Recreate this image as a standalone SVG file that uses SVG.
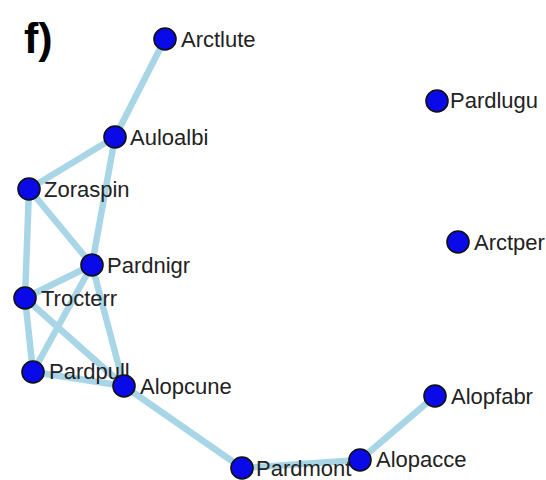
<svg xmlns="http://www.w3.org/2000/svg" width="546" height="480" viewBox="0 0 546 480">
  <style>
    .edge { stroke: #a8d6e6; stroke-width: 6.5; stroke-linecap: round; fill: none; }
    .node circle { fill: #0a0ae8; stroke: #111; stroke-width: 1.6; }
    .node text { font-family: "Liberation Sans", Arial, sans-serif; font-size: 22px; fill: #222; }
    .panel { font-family: "Liberation Sans", Arial, sans-serif; font-size: 43px; font-weight: bold; fill: #000; }
  </style>
  <rect width="546" height="480" fill="#fff"/>
  <text class="panel" x="24" y="53">f)</text>

  <!-- connectors -->
  <g id="edges">
    <line class="edge" x1="165" y1="39" x2="115" y2="137"/>
    <line class="edge" x1="115" y1="137" x2="29" y2="189"/>
    <line class="edge" x1="115" y1="137" x2="92" y2="265"/>
    <line class="edge" x1="29" y1="189" x2="25" y2="298"/>
    <line class="edge" x1="29" y1="189" x2="92" y2="265"/>
    <line class="edge" x1="92" y1="265" x2="25" y2="298"/>
    <line class="edge" x1="92" y1="265" x2="33" y2="372"/>
    <line class="edge" x1="92" y1="265" x2="124" y2="386"/>
    <line class="edge" x1="25" y1="298" x2="33" y2="372"/>
    <line class="edge" x1="25" y1="298" x2="124" y2="386"/>
    <line class="edge" x1="33" y1="372" x2="124" y2="386"/>
    <line class="edge" x1="124" y1="386" x2="242" y2="468"/>
    <line class="edge" x1="242" y1="468" x2="360" y2="460"/>
    <line class="edge" x1="360" y1="460" x2="435" y2="396"/>
  </g>

  <!-- nodes -->
  <g id="Arctlute" class="node"><circle cx="165" cy="39" r="11"/><text x="181" y="47">Arctlute</text></g>
  <g id="Auloalbi" class="node"><circle cx="115" cy="137" r="11"/><text x="130" y="145">Auloalbi</text></g>
  <g id="Zoraspin" class="node"><circle cx="29" cy="189" r="11"/><text x="44" y="197">Zoraspin</text></g>
  <g id="Pardnigr" class="node"><circle cx="92" cy="265" r="11"/><text x="107" y="273">Pardnigr</text></g>
  <g id="Trocterr" class="node"><circle cx="25" cy="298" r="11"/><text x="41" y="306">Trocterr</text></g>
  <g id="Pardpull" class="node"><circle cx="33" cy="372" r="11"/><text x="49" y="379">Pardpull</text></g>
  <g id="Alopcune" class="node"><circle cx="124" cy="386" r="11"/><text x="140" y="394">Alopcune</text></g>
  <g id="Pardmont" class="node"><circle cx="242" cy="468" r="11"/><text x="256" y="476">Pardmont</text></g>
  <g id="Alopacce" class="node"><circle cx="360" cy="460" r="11"/><text x="376" y="467">Alopacce</text></g>
  <g id="Alopfabr" class="node"><circle cx="435" cy="396" r="11"/><text x="451" y="404">Alopfabr</text></g>
  <g id="Pardlugu" class="node"><circle cx="437" cy="101" r="11"/><text x="450" y="108">Pardlugu</text></g>
  <g id="Arctperi" class="node"><circle cx="458" cy="242" r="11"/><text x="474" y="250">Arctperi</text></g>
</svg>
